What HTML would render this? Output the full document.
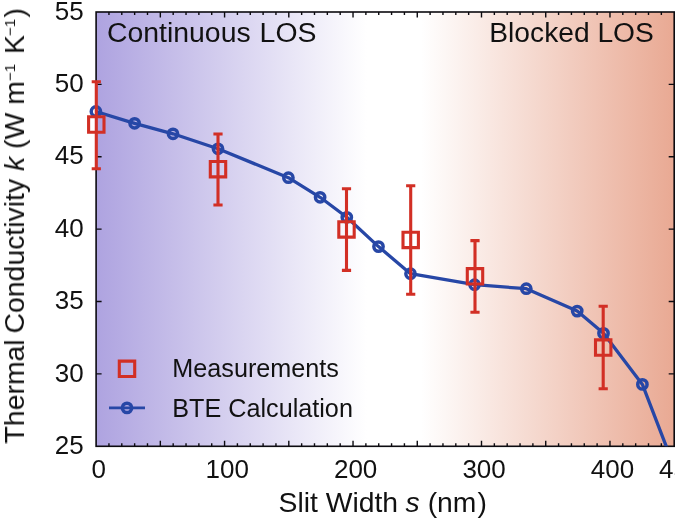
<!DOCTYPE html>
<html><head><meta charset="utf-8"><style>
html,body{margin:0;padding:0;background:#fff;width:675px;height:521px;overflow:hidden}
svg{position:absolute;left:0;top:0;will-change:transform;font-family:"Liberation Sans",sans-serif;fill:#111}
</style></head><body>
<svg width="675" height="521" viewBox="0 0 675 521">
<defs>
<linearGradient id="g" x1="96.1" x2="674.2" y1="0" y2="0" gradientUnits="userSpaceOnUse">
<stop offset="0" stop-color="#aea3e0"/>
<stop offset="0.468" stop-color="#ffffff"/>
<stop offset="0.562" stop-color="#ffffff"/>
<stop offset="1" stop-color="#e9a993"/>
</linearGradient>
<clipPath id="c"><rect x="96.1" y="12.0" width="578.1" height="434.3"/></clipPath>
</defs>
<rect x="96.1" y="12.0" width="578.1" height="434.3" fill="url(#g)"/>
<path d="M108.95 446.3V443.3M108.95 12.0V15.0M121.79 446.3V443.3M121.79 12.0V15.0M134.64 446.3V443.3M134.64 12.0V15.0M147.49 446.3V443.3M147.49 12.0V15.0M160.33 446.3V440.8M160.33 12.0V17.5M173.18 446.3V443.3M173.18 12.0V15.0M186.03 446.3V443.3M186.03 12.0V15.0M198.87 446.3V443.3M198.87 12.0V15.0M211.72 446.3V443.3M211.72 12.0V15.0M224.57 446.3V440.8M224.57 12.0V17.5M237.41 446.3V443.3M237.41 12.0V15.0M250.26 446.3V443.3M250.26 12.0V15.0M263.11 446.3V443.3M263.11 12.0V15.0M275.95 446.3V443.3M275.95 12.0V15.0M288.80 446.3V440.8M288.80 12.0V17.5M301.65 446.3V443.3M301.65 12.0V15.0M314.49 446.3V443.3M314.49 12.0V15.0M327.34 446.3V443.3M327.34 12.0V15.0M340.19 446.3V443.3M340.19 12.0V15.0M353.03 446.3V440.8M353.03 12.0V17.5M365.88 446.3V443.3M365.88 12.0V15.0M378.73 446.3V443.3M378.73 12.0V15.0M391.57 446.3V443.3M391.57 12.0V15.0M404.42 446.3V443.3M404.42 12.0V15.0M417.27 446.3V440.8M417.27 12.0V17.5M430.11 446.3V443.3M430.11 12.0V15.0M442.96 446.3V443.3M442.96 12.0V15.0M455.81 446.3V443.3M455.81 12.0V15.0M468.65 446.3V443.3M468.65 12.0V15.0M481.50 446.3V440.8M481.50 12.0V17.5M494.35 446.3V443.3M494.35 12.0V15.0M507.19 446.3V443.3M507.19 12.0V15.0M520.04 446.3V443.3M520.04 12.0V15.0M532.89 446.3V443.3M532.89 12.0V15.0M545.73 446.3V440.8M545.73 12.0V17.5M558.58 446.3V443.3M558.58 12.0V15.0M571.43 446.3V443.3M571.43 12.0V15.0M584.27 446.3V443.3M584.27 12.0V15.0M597.12 446.3V443.3M597.12 12.0V15.0M609.97 446.3V440.8M609.97 12.0V17.5M622.81 446.3V443.3M622.81 12.0V15.0M635.66 446.3V443.3M635.66 12.0V15.0M648.51 446.3V443.3M648.51 12.0V15.0M661.35 446.3V443.3M661.35 12.0V15.0M96.1 373.92H101.6M674.2 373.92H668.7M96.1 301.53H101.6M674.2 301.53H668.7M96.1 229.15H101.6M674.2 229.15H668.7M96.1 156.77H101.6M674.2 156.77H668.7M96.1 84.38H101.6M674.2 84.38H668.7" stroke="#0c0b10" stroke-width="1.4" fill="none"/>
<rect x="96.1" y="12.0" width="578.1" height="434.3" fill="none" stroke="#0c0b10" stroke-width="1.6"/>
<text x="107" y="41.6" font-size="28.4">Continuous <tspan x="259.6">LOS</tspan></text>
<text x="489.3" y="41.5" font-size="28.2">Blocked LOS</text>
<polyline points="95.9,111.5 134.6,123.3 173.0,133.8 218.0,148.8 288.4,177.7 320.1,197.3 346.8,217.3 378.5,246.6 410.5,273.7 474.6,284.7 526.3,288.7 577.2,311.1 603.5,333.3 642.4,384.4 674.2,467.0" fill="none" stroke="#2747a6" stroke-width="3.3" stroke-linejoin="round" clip-path="url(#c)"/>
<g fill="none" stroke="#2747a6" stroke-width="3.5"><circle cx="95.9" cy="111.5" r="4.65"/><circle cx="134.6" cy="123.3" r="4.65"/><circle cx="173.0" cy="133.8" r="4.65"/><circle cx="218.0" cy="148.8" r="4.65"/><circle cx="288.4" cy="177.7" r="4.65"/><circle cx="320.1" cy="197.3" r="4.65"/><circle cx="346.8" cy="217.3" r="4.65"/><circle cx="378.5" cy="246.6" r="4.65"/><circle cx="410.5" cy="273.7" r="4.65"/><circle cx="474.6" cy="284.7" r="4.65"/><circle cx="526.3" cy="288.7" r="4.65"/><circle cx="577.2" cy="311.1" r="4.65"/><circle cx="603.5" cy="333.3" r="4.65"/><circle cx="642.4" cy="384.4" r="4.65"/></g>
<path d="M96.3 81.7V168.7M91.7 81.7H100.9M91.7 168.7H100.9M88.60 116.80h15.4v15.4h-15.4zM218.0 134.0V205.0M213.4 134.0H222.6M213.4 205.0H222.6M210.30 161.50h15.4v15.4h-15.4zM346.5 188.7V270.4M341.9 188.7H351.1M341.9 270.4H351.1M338.80 221.70h15.4v15.4h-15.4zM410.7 185.8V294.2M406.1 185.8H415.3M406.1 294.2H415.3M403.00 232.20h15.4v15.4h-15.4zM475.0 240.6V312.3M470.4 240.6H479.6M470.4 312.3H479.6M467.30 268.60h15.4v15.4h-15.4zM603.2 306.2V388.7M598.6 306.2H607.8M598.6 388.7H607.8M595.50 339.90h15.4v15.4h-15.4z" stroke="#d22f25" stroke-width="3.1" fill="none"/>
<path d="M119.30 361.10h15.4v15.4h-15.4z" fill="none" stroke="#d22f25" stroke-width="3.1"/>
<path d="M109 407.9H145" stroke="#2747a6" stroke-width="2.8"/>
<circle cx="127" cy="407.9" r="4.6" fill="none" stroke="#2747a6" stroke-width="3.6"/>
<g font-size="25.2"><text x="172.3" y="376.9">Measurements</text>
<text x="172.3" y="417.1">BTE Calculation</text></g>
<g font-size="26"><text x="83.6" y="453.90" text-anchor="end">25</text><text x="83.6" y="381.52" text-anchor="end">30</text><text x="83.6" y="309.13" text-anchor="end">35</text><text x="83.6" y="236.75" text-anchor="end">40</text><text x="83.6" y="164.37" text-anchor="end">45</text><text x="83.6" y="91.98" text-anchor="end">50</text><text x="83.6" y="19.60" text-anchor="end">55</text><text x="98.70" y="478.4" text-anchor="middle">0</text><text x="227.17" y="478.4" text-anchor="middle">100</text><text x="355.63" y="478.4" text-anchor="middle">200</text><text x="484.10" y="478.4" text-anchor="middle">300</text><text x="612.57" y="478.4" text-anchor="middle">400</text><text x="680.70" y="478.4" text-anchor="middle">450</text></g>
<text x="278.6" y="511.6" font-size="28.3">Slit Width<tspan x="405.5" font-style="italic">s</tspan><tspan x="427.7">(nm</tspan><tspan x="477.6">)</tspan></text>
<text transform="translate(24,443.5) rotate(-90)" font-size="28.4">Thermal <tspan dx="-2">Conductivity</tspan> <tspan font-style="italic">k</tspan> <tspan x="294.5">(W m</tspan><tspan font-size="15" dy="-9" x="362.5">&#8722;1</tspan><tspan dy="9" x="389.5">K</tspan><tspan font-size="15" dy="-9" x="407.5">&#8722;1</tspan><tspan dy="9" x="426">)</tspan></text>
</svg>
</body></html>
